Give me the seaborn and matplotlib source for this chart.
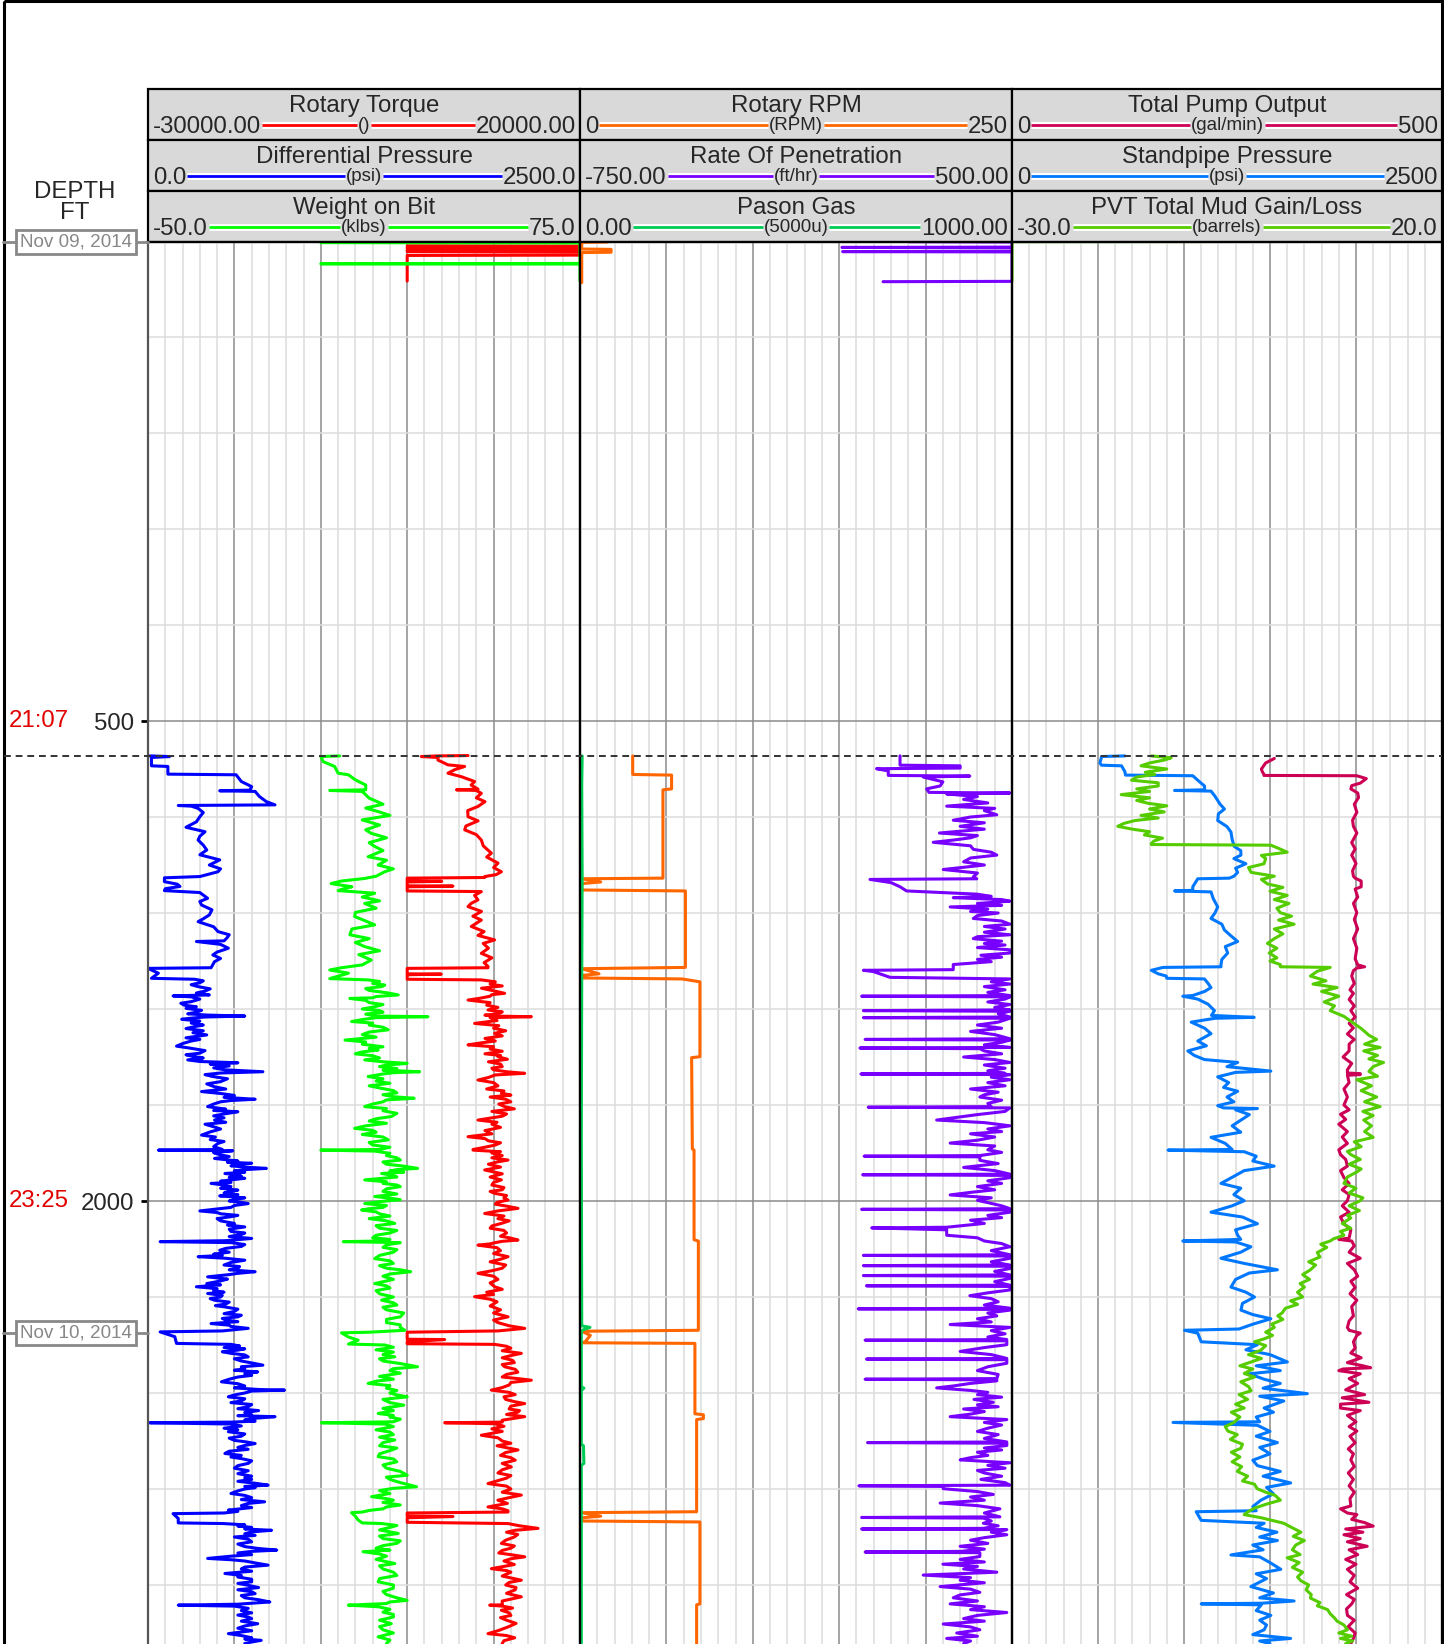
import numpy as np
import pandas as pd
import matplotlib
matplotlib.use("Agg")
import matplotlib.pyplot as plt
import matplotlib.transforms as mtransforms
from matplotlib.patches import Rectangle
from matplotlib.lines import Line2D
import seaborn as sns

sns.set_style("white")
plt.rcParams['font.family'] = ['Liberation Sans', 'DejaVu Sans']

# ---------------- data (depth ft, value in curve units) ----------------
depth_ticks = [500, 2000]
time_labels = ["21:07", "23:25"]
date_labels = ["Nov 09, 2014", "Nov 10, 2014"]
date_depths = [-997, 2412]
event_depth = 609

# short readings at the very top of the log
torque_top = [(-985, 0), (-984, 25000), (-981, 25000), (-980, 0), (-977, 0), (-976, 25000),
              (-972, 25000), (-971, 0), (-967, 0), (-966, 25000), (-956, 25000), (-955, 0), (-875, 0)]
wob_top = [(-995, 0), (-994, 80), (-930, 80), (-929, 0), (-928, 80), (-875, 80)]
rpm_top = [(-997, 16), (-996, 1), (-975, 1), (-974, 18), (-965, 18), (-964, 1), (-870, 1)]
rop_top = [(-998, 200), (-997, 520), (-981, 520), (-980, 8), (-979, 520), (-968, 520), (-967, 10),
           (-966, 520), (-874, 520), (-873, 127)]
pvt_top = [(-999, 25), (-998, -35), (-875, -35)]

torque_pts = [
    (608, 7040), (609, 3560), (611, 1630), (614, 3560), (622, 3560), (637, 4720), (642, 6650), (652, 5500),
    (663, 4720), (674, 6270), (689, 7800), (700, 7400), (713, 8200), (715, 5700), (717, 8000), (726, 8580),
    (740, 8000), (752, 9000), (767, 8190), (780, 7000), (799, 7040), (812, 8200), (828, 6800), (840, 6650),
    (855, 8000), (872, 8580), (890, 8800), (913, 9740), (925, 9200), (944, 10510), (958, 10000), (971, 10900),
    (980, 10300), (986, 8970), (989, 8970), (991, 0), (1000, 0), (1001, 4000), (1003, 0), (1015, 0),
    (1016, 5300), (1018, 0), (1031, 0), (1033, 8580), (1045, 7800), (1059, 8190), (1070, 7400), (1080, 7040),
    (1095, 8600), (1110, 7600), (1122, 8580), (1132, 8000), (1142, 7420), (1158, 8900), (1170, 8200),
    (1184, 10120), (1195, 8800), (1210, 9400), (1226, 8580), (1240, 9800), (1255, 8900), (1267, 9350),
    (1271, 9350), (1273, 0), (1290, 0), (1291, 3950), (1293, 0), (1307, 0),
    (1309, 8580), (1315, 10200), (1322, 9600), (1328, 11000), (1335, 8600), (1343, 10000), (1351, 11280),
    (1355, 9800), (1360, 9600), (1366, 8500), (1372, 7040), (1380, 9600), (1388, 9200), (1395, 10500),
    (1403, 9350), (1409, 11000), (1415, 10500), (1419, 9000), (1422, 9800), (1424, 14370), (1427, 9600),
    (1436, 10400), (1445, 7800), (1452, 10600), (1460, 10000), (1468, 11400), (1476, 10120), (1484, 11000),
    (1492, 9000), (1500, 10200), (1506, 8500), (1512, 7040), (1518, 10000), (1525, 9600), (1532, 11000),
    (1540, 9000), (1545, 10800), (1549, 10510), (1557, 11600), (1565, 9400), (1572, 10800), (1580, 11000),
    (1585, 9800), (1590, 10000), (1596, 11500), (1601, 13600), (1606, 10200), (1614, 9400), (1622, 8190),
    (1630, 10000), (1640, 10500), (1650, 9200), (1656, 11200), (1663, 10900), (1669, 12000), (1675, 9600),
    (1682, 11400), (1690, 12000), (1697, 10600), (1705, 11280), (1712, 12400), (1720, 9800), (1728, 11500),
    (1735, 11000), (1741, 9600), (1747, 8190), (1754, 10400), (1760, 9800), (1770, 10800), (1780, 9000),
    (1790, 9800), (1799, 7040), (1805, 9000), (1812, 9400), (1818, 10800), (1825, 10200), (1832, 9000),
    (1839, 7620), (1841, 7620), (1846, 10800), (1850, 9800), (1858, 11000), (1865, 9800), (1872, 11670),
    (1878, 10400), (1885, 9400), (1894, 10800), (1903, 8970), (1909, 10000), (1915, 11000), (1925, 9600),
    (1934, 10900), (1942, 10000), (1950, 9800), (1958, 11200), (1965, 11000), (1970, 9600), (1976, 10120),
    (1983, 11500), (1990, 11200), (1997, 11670), (2004, 10400), (2010, 10200), (2016, 11500), (2023, 12820),
    (2031, 10500), (2039, 8970), (2047, 11200), (2055, 10500), (2062, 11800), (2070, 10900), (2078, 9800),
    (2085, 9600), (2092, 11200), (2100, 11500), (2110, 10800), (2116, 12000), (2122, 12820), (2126, 11000),
    (2130, 10200), (2134, 9600), (2138, 8190), (2146, 10400), (2155, 10800), (2164, 10000), (2174, 11670),
    (2182, 10800), (2190, 9600), (2200, 11400), (2210, 11000), (2218, 9800), (2226, 8190), (2235, 10000),
    (2245, 10500), (2256, 9600), (2268, 10120), (2276, 11000), (2285, 9200), (2292, 10000), (2299, 7800),
    (2307, 9600), (2315, 10400), (2328, 9600), (2340, 10800), (2350, 10000), (2362, 11670), (2372, 10000),
    (2380, 10500), (2390, 11800), (2398, 13600), (2406, 10500), (2410, 0), (2432, 0), (2433, 4340), (2440, 0),
    (2446, 0), (2448, 10120), (2454, 11500), (2460, 12000), (2468, 11000), (2476, 13210), (2483, 12000),
    (2490, 11000), (2498, 12200), (2505, 12400), (2511, 11000), (2518, 11280), (2526, 12500), (2535, 12800),
    (2542, 11500), (2550, 11000), (2555, 12800), (2560, 14370), (2567, 12000), (2575, 11800), (2583, 11000),
    (2591, 9740), (2598, 11800), (2605, 12500), (2612, 11200), (2620, 11400), (2627, 12400), (2633, 13600),
    (2641, 12000), (2650, 11800), (2655, 13000), (2660, 12800), (2667, 11500), (2674, 13600), (2680, 12200),
    (2685, 11000), (2691, 11000), (2693, 4340), (2696, 10120), (2704, 11200), (2712, 9800), (2720, 11000),
    (2732, 8580), (2740, 10500), (2750, 11000), (2757, 12000), (2765, 10400), (2771, 11500), (2778, 12820),
    (2786, 11400), (2795, 10800), (2802, 12000), (2810, 12500), (2820, 11000), (2831, 12050), (2840, 11000),
    (2850, 10500), (2858, 12000), (2866, 11500), (2874, 10500), (2883, 9350), (2891, 11500), (2900, 12000),
    (2910, 11000), (2919, 13210), (2927, 11800), (2935, 10500), (2945, 11600), (2956, 9350), (2962, 11000),
    (2968, 11670), (2972, 11670), (2975, 0), (2985, 0), (2986, 5300), (2990, 0), (3004, 0), (3008, 11670),
    (3015, 13000), (3023, 15140), (3029, 12500), (3035, 11500), (3042, 12800), (3050, 12400), (3060, 11400),
    (3070, 10900), (3078, 12400), (3085, 12000), (3092, 11000), (3100, 10600), (3106, 12200), (3112, 13600),
    (3118, 12000), (3125, 11200), (3136, 12400), (3149, 9740), (3155, 11500), (3160, 12000), (3172, 11000),
    (3185, 13210), (3192, 11800), (3200, 11400), (3208, 12600), (3215, 12500), (3226, 11500), (3237, 13210),
    (3244, 12000), (3250, 11000), (3262, 11000), (3263, 9550), (3266, 11000), (3272, 12200), (3279, 10900),
    (3287, 11800), (3295, 12000), (3302, 10800), (3310, 11500), (3320, 12600), (3331, 11670), (3342, 10600),
    (3352, 9350), (3358, 11500), (3365, 12440), (3374, 11200), (3383, 11000)]

dp_pts = [
    (609, 10), (611, 125), (614, 20), (640, 20), (642, 115), (666, 115), (668, 510), (689, 540), (705, 600),
    (716, 590), (718, 415), (720, 620), (736, 645), (752, 685), (762, 735), (764, 175), (766, 250), (773, 290),
    (786, 320), (799, 300), (815, 280), (832, 220), (846, 330), (860, 300), (872, 290), (888, 320), (903, 340),
    (918, 300), (934, 415), (950, 355), (962, 420), (971, 405), (986, 300), (990, 95), (1002, 95), (1010, 170),
    (1017, 185), (1024, 100), (1030, 95), (1036, 300), (1054, 345), (1064, 300), (1075, 310), (1090, 370),
    (1106, 355), (1118, 320), (1127, 290), (1143, 380), (1158, 405), (1168, 470), (1179, 455), (1187, 440),
    (1189, 280), (1198, 420), (1210, 465), (1222, 400), (1231, 375), (1242, 420), (1252, 385), (1271, 365),
    (1273, 0), (1288, 60), (1304, 20),
    (1307, 270), (1312, 320), (1318, 300), (1324, 250), (1330, 290), (1337, 360), (1344, 330), (1350, 280),
    (1356, 355), (1359, 145), (1362, 250), (1369, 300), (1377, 250), (1382, 190), (1388, 210), (1393, 280),
    (1398, 220), (1404, 310), (1410, 280), (1415, 230), (1419, 345), (1422, 560), (1425, 330), (1428, 260),
    (1432, 195), (1438, 300), (1444, 250), (1450, 320), (1455, 270), (1461, 220), (1468, 320), (1474, 260),
    (1481, 340), (1490, 220), (1495, 300), (1500, 250), (1508, 200), (1516, 165), (1522, 240), (1530, 330),
    (1538, 300), (1543, 220), (1548, 260), (1553, 320), (1559, 230), (1564, 300), (1568, 520), (1572, 360),
    (1578, 470), (1584, 380), (1590, 445), (1596, 665), (1600, 420), (1605, 330), (1611, 375), (1618, 460),
    (1627, 420), (1634, 340), (1643, 385), (1650, 450), (1658, 310), (1664, 420), (1670, 500), (1676, 440),
    (1682, 620), (1686, 480), (1690, 420), (1697, 380), (1705, 345), (1713, 450), (1717, 380), (1721, 520),
    (1728, 440), (1734, 380), (1740, 440), (1747, 385), (1754, 450), (1760, 330), (1768, 380), (1775, 420),
    (1784, 360), (1794, 310), (1800, 390), (1808, 360), (1814, 440), (1820, 405), (1830, 380), (1839, 430),
    (1841, 60), (1843, 490), (1849, 380), (1856, 420), (1861, 470), (1867, 385), (1871, 450), (1875, 520),
    (1879, 460), (1882, 600), (1886, 520), (1890, 480), (1894, 560), (1898, 685), (1902, 560), (1906, 500),
    (1910, 560), (1914, 445), (1918, 510), (1922, 540), (1926, 470), (1929, 560), (1934, 480), (1938, 420),
    (1942, 480), (1945, 365), (1950, 440), (1955, 480), (1960, 420), (1966, 520), (1970, 470), (1975, 440),
    (1980, 520), (1984, 415),
    (1990, 560), (1995, 500), (2000, 470), (2004, 540), (2008, 580), (2014, 500), (2020, 480), (2026, 380),
    (2031, 300), (2036, 400), (2040, 420), (2045, 520), (2049, 480), (2055, 400), (2062, 420), (2070, 500),
    (2075, 460), (2081, 560), (2088, 470), (2095, 480), (2100, 560), (2105, 540), (2111, 470), (2117, 600),
    (2124, 450), (2127, 70), (2130, 480), (2136, 560), (2142, 540), (2148, 450), (2154, 415), (2160, 470),
    (2166, 380), (2170, 430), (2174, 290), (2179, 450), (2185, 560), (2192, 480), (2200, 440), (2205, 530),
    (2210, 520), (2215, 470), (2221, 620), (2226, 520), (2230, 470), (2237, 345), (2244, 460), (2250, 420),
    (2258, 340), (2262, 420), (2268, 280), (2274, 400), (2280, 380), (2285, 440), (2289, 345), (2295, 430),
    (2300, 420), (2305, 360), (2310, 385), (2316, 470), (2322, 450), (2327, 390), (2331, 445), (2338, 520),
    (2345, 500), (2352, 440), (2357, 540), (2362, 520), (2367, 430), (2372, 450), (2377, 520), (2383, 365),
    (2388, 470), (2392, 480), (2398, 580), (2406, 430), (2409, 70), (2424, 155), (2445, 165), (2448, 480),
    (2453, 530), (2458, 440), (2462, 560), (2466, 520), (2471, 430), (2476, 480), (2481, 560), (2487, 580),
    (2493, 500), (2500, 540), (2506, 600), (2513, 665), (2518, 540), (2524, 560), (2529, 500), (2534, 635),
    (2540, 560), (2545, 600), (2550, 520), (2557, 470), (2565, 425), (2571, 520), (2578, 560), (2584, 500),
    (2589, 640), (2591, 790), (2594, 600), (2600, 560), (2606, 500), (2612, 465), (2618, 560), (2625, 540),
    (2630, 480), (2636, 600), (2643, 580), (2649, 520), (2655, 640), (2661, 560), (2668, 600), (2671, 520),
    (2674, 735), (2679, 620), (2684, 560), (2688, 620), (2691, 480), (2693, 10), (2697, 480), (2703, 540),
    (2710, 440), (2715, 520), (2721, 465), (2728, 560), (2735, 540), (2741, 470), (2748, 500), (2753, 570),
    (2758, 620), (2764, 560), (2770, 520), (2776, 580), (2782, 470), (2789, 445), (2795, 540), (2800, 480),
    (2805, 540), (2812, 600), (2820, 580), (2827, 520), (2835, 500), (2843, 580), (2852, 520), (2860, 600),
    (2865, 560), (2870, 600), (2876, 520), (2882, 620), (2888, 695), (2892, 560), (2896, 620), (2900, 560),
    (2906, 520), (2914, 480), (2920, 560), (2927, 600), (2933, 540), (2940, 675), (2945, 580), (2952, 540),
    (2958, 600), (2966, 465), (2970, 520), (2975, 440), (2977, 145), (2992, 175), (3006, 175), (3008, 435),
    (3012, 560), (3016, 520), (3020, 600), (3025, 560), (3029, 715), (3034, 600), (3040, 560), (3045, 620),
    (3050, 500), (3057, 580), (3065, 600), (3072, 520), (3080, 560), (3086, 640), (3091, 745), (3095, 600),
    (3100, 520), (3105, 600), (3110, 480), (3117, 345), (3121, 480), (3125, 560), (3131, 620), (3138, 695),
    (3144, 560), (3150, 540), (3157, 600), (3164, 445), (3170, 540), (3175, 520), (3182, 600), (3190, 600),
    (3195, 520), (3201, 580), (3208, 640), (3215, 520), (3221, 600), (3227, 620), (3233, 540), (3240, 560),
    (3246, 640), (3253, 705), (3260, 520), (3263, 175), (3266, 500), (3273, 580), (3280, 540), (3287, 600),
    (3294, 520), (3300, 580), (3305, 600), (3313, 540), (3321, 635), (3328, 560), (3335, 520), (3343, 600),
    (3352, 465), (3358, 540), (3365, 600), (3369, 560), (3373, 655), (3378, 600), (3383, 560)]

wob_pts = [
    (609, 5.5), (611, 0), (627, 0.7), (642, 4), (663, 5), (668, 8), (684, 10), (700, 13), (715, 13),
    (717, 2.6), (720, 12), (741, 14), (760, 18), (772, 13), (783, 16.6), (795, 20), (809, 12), (825, 17),
    (840, 13), (851, 14.6), (865, 19), (880, 14), (892, 15.6), (905, 18), (924, 13.7), (935, 19), (950, 16.6),
    (962, 21), (971, 18.5), (985, 16), (992, 12.7), (1000, 6), (1008, 3), (1018, 9), (1023, 7), (1030, 5),
    (1038, 15.6), (1050, 12), (1062, 17), (1070, 12.7), (1085, 16), (1098, 10), (1111, 9.8), (1125, 13),
    (1137, 15.6), (1150, 9), (1168, 8.4), (1180, 14), (1192, 10), (1205, 12.7), (1218, 17), (1230, 11),
    (1247, 14.6), (1262, 12), (1271, 6), (1278, 2.6), (1288, 8), (1305, 2.6),
    (1309, 13.7), (1314, 17), (1320, 15), (1325, 18.5), (1330, 17.6), (1336, 13), (1342, 14), (1349, 19),
    (1356, 22.4), (1361, 16), (1365, 15), (1367, 8.4), (1373, 13), (1380, 14), (1386, 18), (1393, 15.6),
    (1400, 12), (1405, 17), (1410, 18), (1416, 13), (1422, 16), (1424, 31), (1427, 16), (1433, 12),
    (1439, 8.9), (1444, 15), (1450, 14), (1457, 18), (1465, 19.5), (1472, 14), (1480, 12), (1488, 16),
    (1497, 7), (1503, 13), (1510, 12), (1518, 18), (1523, 14), (1528, 16.6), (1534, 12), (1540, 10),
    (1546, 15), (1553, 17), (1559, 12.7), (1565, 18), (1570, 25), (1575, 19), (1580, 17), (1586, 22),
    (1591, 18), (1596, 28.6), (1599, 21), (1603, 18), (1611, 13.7), (1618, 18), (1625, 16), (1632, 20),
    (1640, 14), (1648, 17.6), (1655, 21), (1662, 22), (1668, 18), (1674, 21), (1679, 27), (1684, 19),
    (1690, 18), (1697, 15), (1705, 12.7), (1711, 19), (1718, 18), (1726, 22), (1736, 20.4), (1743, 16),
    (1750, 14), (1757, 19), (1765, 13), (1773, 9.8), (1779, 15), (1785, 16), (1792, 12), (1800, 18),
    (1809, 19.5), (1817, 14), (1825, 15), (1832, 20), (1839, 17), (1841, 0), (1844, 15.6), (1851, 20),
    (1858, 19), (1865, 22), (1872, 23), (1878, 18), (1885, 19), (1891, 24), (1898, 28), (1902, 22),
    (1906, 20), (1910, 24), (1914, 17.6), (1920, 21), (1925, 22), (1930, 17), (1934, 12.7), (1940, 19),
    (1945, 18), (1950, 22), (1955, 23), (1962, 19), (1970, 18), (1978, 22), (1986, 15.6), (1991, 20),
    (1996, 23), (2002, 17), (2008, 12.7), (2014, 19), (2020, 18), (2024, 14), (2028, 11.8), (2034, 16),
    (2040, 17), (2047, 20), (2055, 14), (2062, 19), (2070, 21.4), (2077, 16), (2085, 17), (2092, 22),
    (2100, 20), (2107, 16), (2115, 15), (2120, 20), (2125, 17), (2127, 6.5), (2130, 23), (2137, 19),
    (2145, 18), (2152, 22), (2160, 21), (2170, 17), (2180, 15.6), (2187, 20), (2195, 21), (2202, 17),
    (2210, 19), (2215, 23), (2221, 26), (2228, 20), (2235, 18), (2245, 21), (2258, 15.6), (2265, 19),
    (2272, 20), (2280, 16), (2290, 17), (2300, 21), (2310, 17.6), (2318, 21), (2325, 22), (2332, 18),
    (2340, 19), (2350, 24), (2362, 23), (2370, 19), (2380, 19), (2387, 23), (2395, 23), (2404, 24.3),
    (2410, 14), (2412, 6), (2425, 8), (2435, 10.8), (2447, 8), (2450, 18.5), (2457, 21), (2465, 16),
    (2472, 21), (2480, 18), (2487, 21.4), (2493, 17), (2500, 18), (2508, 23), (2518, 28), (2524, 21),
    (2530, 20), (2538, 23), (2548, 17), (2557, 21), (2563, 16), (2570, 13.7), (2577, 20), (2585, 19),
    (2592, 22), (2600, 20), (2606, 22), (2612, 25), (2620, 18), (2630, 20), (2638, 24), (2648, 18),
    (2655, 21), (2664, 16.6), (2670, 21), (2675, 20), (2682, 23), (2690, 21), (2693, 0.2), (2697, 18.5),
    (2705, 21), (2715, 16), (2722, 20), (2730, 21), (2738, 17), (2747, 21.4), (2755, 18), (2765, 17),
    (2772, 22), (2780, 20), (2790, 17), (2799, 16.6), (2806, 21), (2815, 22), (2825, 18), (2835, 19),
    (2845, 23), (2857, 25), (2863, 19), (2870, 20), (2880, 23), (2893, 27.7), (2898, 21), (2905, 17),
    (2914, 20), (2924, 14.7), (2930, 19), (2935, 21), (2942, 18), (2950, 23), (2956, 19), (2962, 18),
    (2967, 14), (2972, 12), (2974, 8.9), (2985, 10), (2997, 10.8), (3006, 12), (3008, 17.6), (3014, 22),
    (3020, 20), (3028, 17), (3039, 22.4), (3047, 17), (3055, 18), (3062, 23), (3070, 22), (3077, 18),
    (3085, 16), (3091, 20), (3096, 12.2), (3103, 17), (3110, 19), (3120, 16), (3133, 21.4), (3140, 17),
    (3150, 18), (3160, 21), (3170, 22), (3180, 17), (3190, 16.6), (3200, 21), (3210, 21), (3220, 18),
    (3230, 19), (3240, 22), (3248, 25), (3253, 20), (3258, 19), (3263, 8), (3268, 16.6), (3276, 20),
    (3285, 18), (3292, 21), (3300, 21), (3310, 17), (3321, 20.4), (3330, 17), (3340, 18), (3350, 21),
    (3362, 16.6), (3372, 20), (3383, 19)]

rpm_pts = [
    (609, 30.5), (667, 30.5), (669, 53), (712, 53), (715, 48), (991, 48), (993, 1), (1003, 12), (1008, 1),
    (1028, 1), (1031, 61), (1270, 61), (1274, 1), (1290, 11), (1295, 1), (1303, 1), (1306, 59), (1315, 69.4),
    (1549, 69.4), (1552, 64.6), (1837, 65), (1841, 66), (2121, 66), (2125, 68.5), (2404, 68.5), (2407, 1),
    (2420, 6), (2440, 3), (2443, 1), (2445, 66.5), (2665, 66.5), (2668, 71.4), (2680, 71.4), (2683, 67.5),
    (2971, 67.5), (2974, 1), (2985, 12), (2990, 1), (3000, 1), (3003, 69.4), (3259, 69.4), (3262, 67.5),
    (3383, 67.5)]

rop_pts = [
    (609, 176), (638, 176), (640, 350), (647, 350), (649, 108), (656, 142), (670, 142), (672, 378), (675, 243),
    (690, 300), (703, 292), (712, 253), (723, 260), (725, 494), (728, 311), (736, 400), (745, 360), (756, 430),
    (766, 311), (773, 450), (780, 420), (793, 456), (800, 380), (810, 330), (818, 420), (829, 350), (838, 420),
    (850, 290), (858, 400), (865, 380), (872, 330), (879, 272), (890, 380), (901, 388), (910, 440), (919, 456),
    (928, 380), (940, 360), (950, 420), (964, 301), (975, 400), (987, 388), (993, 398), (995, 89), (1005, 150),
    (1018, 176), (1031, 195), (1041, 398), (1048, 440), (1052, 330), (1058, 470), (1063, 494), (1070, 400),
    (1076, 470), (1081, 321), (1088, 430), (1095, 380), (1100, 460), (1108, 400), (1117, 388), (1125, 470),
    (1135, 494), (1142, 420), (1150, 480), (1160, 420), (1168, 494), (1174, 400), (1180, 388), (1188, 470),
    (1195, 420), (1200, 480), (1208, 400), (1215, 494), (1225, 494), (1232, 410), (1238, 470), (1245, 400),
    (1252, 440), (1261, 330), (1277, 330), (1279, 70), (1283, 99), (1301, 147), (1306, 494), (1315, 440),
    (1322, 494), (1330, 420), (1340, 480), (1348, 430), (1358, 494), (1360, 65), (1362, 494), (1369, 480),
    (1378, 430), (1386, 494), (1395, 450), (1403, 494), (1405, 70), (1407, 494), (1415, 460), (1425, 494),
    (1427, 70), (1429, 494), (1441, 460), (1450, 400), (1460, 470), (1470, 380), (1480, 450), (1493, 494),
    (1495, 75), (1497, 494), (1504, 470), (1512, 420), (1520, 494), (1522, 60), (1524, 407), (1531, 420),
    (1540, 470), (1550, 360), (1558, 450), (1567, 494), (1575, 420), (1585, 480), (1593, 430), (1601, 480),
    (1603, 63), (1605, 494), (1613, 440), (1621, 494), (1630, 430), (1640, 480), (1650, 380), (1660, 460),
    (1668, 420), (1675, 407), (1685, 470), (1695, 430), (1705, 440), (1707, 84), (1709, 494), (1720, 480),
    (1730, 400), (1740, 330), (1747, 282), (1755, 420), (1765, 494), (1775, 430), (1783, 470), (1790, 380),
    (1800, 450), (1810, 400), (1819, 321), (1828, 450), (1840, 430), (1848, 470), (1858, 407), (1860, 72),
    (1862, 407), (1873, 407), (1883, 460), (1895, 360), (1905, 450), (1916, 494), (1918, 68), (1920, 494),
    (1927, 494), (1937, 430), (1945, 470), (1955, 400), (1965, 450), (1973, 380), (1981, 321), (1990, 440),
    (1998, 400), (2005, 430), (2015, 470), (2024, 494), (2026, 65), (2028, 494), (2035, 494), (2045, 430),
    (2052, 470), (2060, 380), (2070, 420), (2082, 311), (2084, 94), (2090, 311), (2107, 311), (2115, 400),
    (2125, 420), (2133, 470), (2143, 494), (2155, 440), (2168, 494), (2170, 70), (2172, 494), (2179, 494),
    (2190, 440), (2200, 494), (2202, 70), (2204, 494), (2211, 494), (2220, 450), (2231, 494), (2233, 70),
    (2235, 494), (2242, 494), (2252, 450), (2263, 494), (2265, 79), (2267, 494), (2278, 494), (2287, 430),
    (2296, 378), (2305, 440), (2315, 460), (2325, 420), (2335, 494), (2337, 55), (2339, 494), (2341, 494),
    (2350, 430), (2359, 456), (2368, 400), (2378, 440), (2386, 321), (2395, 494), (2405, 440), (2415, 480),
    (2425, 430), (2433, 485), (2435, 75), (2437, 485), (2449, 485), (2458, 420), (2470, 350), (2480, 440),
    (2492, 485), (2494, 79), (2496, 485), (2507, 485), (2518, 430), (2530, 400), (2542, 460), (2555, 456),
    (2557, 75), (2559, 456), (2562, 456), (2570, 380), (2578, 330), (2584, 282), (2592, 380), (2598, 430),
    (2605, 400), (2613, 470), (2620, 390), (2629, 446), (2637, 400), (2643, 460), (2650, 360), (2658, 420),
    (2666, 380), (2674, 321), (2683, 485), (2692, 420), (2700, 470), (2710, 430), (2720, 400), (2730, 460),
    (2742, 420), (2753, 485), (2755, 82), (2757, 485), (2764, 485), (2772, 420), (2778, 470), (2785, 400),
    (2795, 430), (2802, 380), (2809, 350), (2818, 494), (2826, 430), (2835, 480), (2842, 400), (2850, 420),
    (2860, 470), (2870, 410), (2880, 480), (2888, 494), (2890, 57), (2892, 301), (2899, 301), (2908, 400),
    (2917, 446), (2925, 380), (2935, 420), (2944, 292), (2952, 400), (2962, 465), (2975, 420), (2987, 465),
    (2989, 65), (2991, 417), (3000, 440), (3007, 417), (3015, 460), (3023, 417), (3025, 65), (3027, 485),
    (3035, 440), (3043, 485), (3052, 420), (3060, 380), (3070, 430), (3079, 350), (3088, 420), (3095, 350),
    (3097, 75), (3099, 407), (3111, 407), (3120, 350), (3128, 420), (3135, 300), (3142, 400), (3150, 360),
    (3160, 456), (3169, 243), (3177, 380), (3185, 350), (3193, 420), (3205, 292), (3213, 380), (3223, 407),
    (3231, 350), (3240, 330), (3250, 400), (3259, 321), (3268, 420), (3277, 380), (3286, 485), (3295, 400),
    (3305, 360), (3313, 420), (3322, 301), (3331, 380), (3340, 407), (3350, 340), (3360, 400), (3367, 311),
    (3375, 380), (3383, 360)]

gas_pts = [
    (609, 5), (700, 4), (990, 5), (1300, 4), (1800, 3), (2390, 4), (2395, 23), (2402, 8), (2408, 3),
    (2580, 3), (2585, 9), (2592, 3), (2760, 3), (2765, 8), (2820, 9), (2826, 3), (3383, 3)]

pump_pts = [
    (617, 305), (631, 295), (650, 290), (658, 291), (667, 293), (670, 293), (671, 401), (680, 412), (694, 405),
    (702, 395), (712, 394), (725, 402), (739, 403), (760, 398), (785, 401), (810, 396), (829, 397), (850, 401),
    (880, 395), (900, 399), (919, 395), (945, 400), (968, 396), (985, 397), (991, 399), (1000, 406),
    (1018, 406), (1025, 399), (1050, 402), (1070, 397), (1099, 401), (1120, 398), (1150, 402), (1180, 397),
    (1210, 401), (1243, 399), (1262, 402), (1268, 410), (1272, 401), (1280, 397), (1297, 395), (1320, 398),
    (1340, 393), (1351, 397), (1370, 392), (1390, 398), (1405, 394), (1425, 399), (1445, 392), (1459, 397),
    (1478, 390), (1495, 398), (1510, 392), (1531, 392), (1550, 385), (1570, 395), (1590, 390), (1600, 390),
    (1602, 405), (1605, 405), (1607, 390), (1630, 392), (1650, 386), (1675, 390), (1700, 386), (1715, 392),
    (1729, 382), (1745, 388), (1760, 380), (1783, 390), (1800, 384), (1820, 390), (1840, 380), (1855, 382),
    (1870, 388), (1891, 390), (1905, 382), (1927, 386), (1945, 392), (1965, 384), (1980, 392), (1999, 390),
    (2015, 384), (2035, 392), (2050, 382), (2071, 386), (2090, 394), (2116, 392), (2120, 380), (2125, 395),
    (2140, 398), (2160, 392), (2179, 405), (2195, 390), (2215, 398), (2235, 402), (2251, 394), (2270, 399),
    (2290, 393), (2310, 401), (2330, 395), (2359, 397), (2375, 392), (2395, 390), (2404, 392), (2413, 405),
    (2420, 401), (2440, 397), (2460, 399), (2475, 394), (2490, 406), (2505, 390), (2515, 408), (2521, 417),
    (2525, 385), (2530, 380), (2540, 405), (2555, 392), (2570, 402), (2590, 388), (2605, 410), (2615, 384),
    (2629, 415), (2635, 382), (2647, 382), (2655, 405), (2670, 390), (2690, 400), (2705, 392), (2719, 401),
    (2735, 393), (2755, 399), (2775, 391), (2790, 397), (2809, 394), (2830, 398), (2850, 391), (2870, 397),
    (2890, 392), (2910, 398), (2930, 393), (2953, 394), (2962, 382), (2975, 390), (2980, 401), (2995, 395),
    (3005, 410), (3016, 420), (3025, 388), (3035, 408), (3043, 386), (3055, 405), (3065, 390), (3079, 413),
    (3090, 392), (3105, 402), (3120, 388), (3135, 400), (3151, 390), (3170, 398), (3190, 393), (3210, 402),
    (3230, 389), (3245, 398), (3259, 395), (3275, 389), (3295, 390), (3310, 398), (3330, 391), (3350, 399),
    (3367, 397), (3383, 394)]

spp_pts = [
    (609, 656), (611, 521), (631, 511), (638, 520), (640, 637), (658, 656), (669, 660), (671, 1051),
    (685, 1080), (703, 1119), (715, 1120), (717, 945), (719, 1157), (735, 1180), (748, 1196), (760, 1210),
    (775, 1235), (790, 1200), (811, 1196), (830, 1250), (847, 1273), (870, 1280), (892, 1292), (905, 1330),
    (919, 1331), (930, 1290), (946, 1360), (960, 1300), (973, 1312), (985, 1290), (991, 1264), (993, 1080),
    (1018, 1051), (1029, 1051), (1031, 945), (1034, 1157), (1055, 1170), (1081, 1196), (1100, 1180),
    (1117, 1157), (1135, 1220), (1153, 1235), (1170, 1270), (1189, 1312), (1205, 1240), (1225, 1254),
    (1245, 1220), (1261, 1215), (1268, 1215), (1270, 878), (1279, 810), (1290, 850), (1297, 897), (1304, 900),
    (1306, 1119), (1320, 1140), (1333, 1157), (1345, 1120), (1358, 1050), (1360, 993), (1369, 1080),
    (1385, 1140), (1405, 1177), (1420, 1160), (1426, 1408), (1429, 1180), (1441, 1042), (1460, 1120),
    (1477, 1157), (1500, 1080), (1515, 1130), (1531, 1022), (1545, 1060), (1558, 1119), (1567, 1312),
    (1580, 1250), (1594, 1505), (1598, 1300), (1612, 1196), (1630, 1260), (1645, 1230), (1657, 1312),
    (1675, 1250), (1690, 1290), (1702, 1196), (1709, 1230), (1711, 1427), (1715, 1300), (1730, 1380),
    (1747, 1331), (1765, 1280), (1785, 1330), (1801, 1157), (1820, 1240), (1839, 1280), (1841, 907),
    (1846, 1350), (1860, 1420), (1875, 1400), (1891, 1524), (1905, 1350), (1920, 1300), (1945, 1215),
    (1960, 1330), (1980, 1290), (1999, 1350), (2015, 1280), (2035, 1157), (2050, 1340), (2071, 1427),
    (2090, 1300), (2107, 1312), (2120, 1330), (2125, 993), (2128, 1300), (2143, 1389), (2160, 1330),
    (2179, 1215), (2195, 1350), (2215, 1543), (2225, 1380), (2245, 1300), (2269, 1273), (2285, 1360),
    (2300, 1410), (2320, 1340), (2341, 1331), (2355, 1400), (2368, 1505), (2385, 1400), (2400, 1320),
    (2404, 1003), (2413, 1080), (2440, 1100), (2449, 1427), (2465, 1360), (2480, 1500), (2503, 1601),
    (2515, 1420), (2530, 1560), (2540, 1380), (2557, 1466), (2570, 1560), (2585, 1460), (2602, 1717),
    (2610, 1440), (2625, 1580), (2647, 1466), (2660, 1520), (2675, 1420), (2690, 1440), (2692, 936),
    (2701, 1427), (2720, 1500), (2735, 1420), (2755, 1543), (2770, 1440), (2790, 1500), (2810, 1400),
    (2827, 1427), (2845, 1560), (2860, 1460), (2881, 1620), (2895, 1480), (2915, 1520), (2935, 1447),
    (2955, 1400), (2968, 1420), (2971, 1071), (2998, 1100), (3007, 1466), (3020, 1420), (3035, 1540),
    (3050, 1440), (3061, 1543), (3075, 1400), (3090, 1460), (3106, 1273), (3112, 1440), (3130, 1500),
    (3151, 1563), (3165, 1420), (3180, 1480), (3205, 1389), (3225, 1520), (3240, 1440), (3250, 1640),
    (3257, 1450), (3259, 1100), (3262, 1450), (3280, 1420), (3295, 1505), (3310, 1440), (3325, 1480),
    (3340, 1466), (3355, 1400), (3367, 1620), (3375, 1440), (3383, 1500)]

pvt_pts = [
    (609, -13.8), (615, -11.5), (622, -12.3), (631, -14), (640, -15), (650, -12), (660, -14.5), (667, -13.4),
    (675, -15.5), (685, -16.1), (693, -13), (703, -13), (712, -15.5), (720, -14), (730, -17.3), (740, -14),
    (748, -15.5), (757, -14.2), (765, -12), (775, -14), (784, -12.3), (795, -15), (803, -13), (811, -15.7),
    (820, -17), (829, -17.7), (838, -16), (846, -14), (856, -14.6), (866, -12.5), (875, -13.5), (883, -13.8),
    (886, -13.8), (888, 0.1), (898, 1), (910, 2), (920, -1), (930, -0.5), (946, -0.7), (958, -2.5),
    (973, -2.2), (985, 0.5), (995, -1), (1009, -0.3), (1020, 1.5), (1032, 0), (1045, 2), (1058, 0.5),
    (1070, 2.2), (1085, 0.8), (1099, 1.2), (1110, 2.5), (1122, 1), (1135, 2.8), (1150, 0.5), (1165, 1.5),
    (1180, 0.5), (1195, -0.3), (1210, 0.8), (1225, -0.1), (1240, 0.8), (1250, 0), (1261, 1.2), (1268, 1.2),
    (1270, 7), (1282, 5.5), (1297, 4.7), (1312, 6.5), (1322, 5), (1333, 7.8), (1345, 6), (1360, 8),
    (1378, 6.3), (1390, 7.5), (1405, 7), (1423, 8.6), (1440, 9.5), (1459, 10.5), (1470, 11), (1482, 11.5),
    (1495, 12.4), (1510, 11), (1520, 12.8), (1531, 10.9), (1545, 12.5), (1556, 11.5), (1567, 13.2),
    (1580, 12), (1595, 11.5), (1610, 12.5), (1621, 10.1), (1640, 11.8), (1655, 10.6), (1675, 12.4),
    (1690, 11), (1705, 12.8), (1720, 10.8), (1733, 12), (1747, 10.9), (1765, 11.8), (1783, 11), (1801, 12),
    (1815, 9.8), (1830, 10.6), (1845, 9), (1855, 9.4), (1870, 10.5), (1885, 9.2), (1900, 10.6), (1909, 10.1),
    (1925, 9), (1945, 8.6), (1960, 10), (1975, 9.2), (1990, 10.8), (1999, 10.5), (2015, 9.2), (2030, 10.4),
    (2045, 9), (2053, 9.4), (2070, 8.4), (2085, 9.4), (2095, 8.2), (2107, 8.6), (2118, 7.4), (2125, 7),
    (2135, 5.9), (2145, 6.6), (2161, 5.5), (2175, 5.8), (2190, 4.5), (2200, 5.3), (2215, 4.7), (2230, 3.8),
    (2245, 4.6), (2258, 3.5), (2269, 4), (2285, 3.2), (2300, 3.8), (2312, 2.4), (2323, 3.2), (2335, 1.8),
    (2350, 1.4), (2359, 0.9), (2370, 1.5), (2385, 0.2), (2395, 0.5), (2410, -0.5), (2420, 0.3), (2431, -0.7),
    (2440, -1.8), (2452, -0.5), (2467, -1.1), (2480, -2.5), (2492, -1), (2503, -2.2), (2515, -3.5),
    (2525, -2), (2539, -3), (2550, -1.8), (2565, -3.4), (2580, -2.5), (2593, -2.2), (2605, -3.6),
    (2620, -2.6), (2635, -4), (2647, -3), (2660, -4.5), (2675, -3.5), (2692, -4.2), (2705, -5.2),
    (2719, -4.9), (2730, -3.8), (2745, -4.6), (2760, -3.2), (2773, -3.4), (2785, -4.5), (2800, -3.5),
    (2815, -4.4), (2830, -3.3), (2845, -3.8), (2860, -2.6), (2875, -3.2), (2885, -1.8), (2899, -1.5),
    (2910, -0.5), (2920, 0.6), (2935, 1.2), (2948, -0.5), (2960, -1.8), (2970, -2.5), (2980, -3),
    (2990, -1), (3000, 0.5), (3007, 1.6), (3020, 2.5), (3035, 3.6), (3048, 2.7), (3061, 4), (3075, 3),
    (3090, 2.6), (3105, 3.5), (3115, 2), (3130, 3.4), (3145, 2.6), (3160, 3.8), (3175, 3.2), (3187, 3.6),
    (3200, 4.5), (3215, 4.2), (3230, 4.8), (3241, 4.7), (3255, 5.8), (3265, 5.5), (3277, 6.7), (3290, 7),
    (3303, 7.5), (3313, 7.8), (3325, 8.6), (3340, 9), (3350, 8), (3360, 9.5), (3367, 8.2), (3375, 9.6),
    (3383, 8.8)]

# header rows per track: title, unit, left label, right label, scale min, scale max, colour, segments
tracks = [
    [("Rotary Torque", "()", "-30000.00", "20000.00", -30000, 20000, "#ff0000", [torque_top, torque_pts]),
     ("Differential Pressure", "(psi)", "0.0", "2500.0", 0, 2500, "#0000ff", [dp_pts]),
     ("Weight on Bit", "(klbs)", "-50.0", "75.0", -50, 75, "#00ff00", [wob_top, wob_pts])],
    [("Rotary RPM", "(RPM)", "0", "250", 0, 250, "#ff6600", [rpm_top, rpm_pts]),
     ("Rate Of Penetration", "(ft/hr)", "-750.00", "500.00", -750, 500, "#7700ff", [rop_top, rop_pts]),
     ("Pason Gas", "(5000u)", "0.00", "1000.00", 0, 1000, "#00cc55", [gas_pts])],
    [("Total Pump Output", "(gal/min)", "0", "500", 0, 500, "#cc0055", [pump_pts]),
     ("Standpipe Pressure", "(psi)", "0", "2500", 0, 2500, "#0077ff", [spp_pts]),
     ("PVT Total Mud Gain/Loss", "(barrels)", "-30.0", "20.0", -30, 20, "#55cc00", [pvt_top, pvt_pts])],
]

# ---------------- layout (pixels) ----------------
W, H = 1444, 1644
TRACK_X = [148, 580, 1012, 1442]
HEADER_Y = [89, 140, 191, 242]
DEPTH_TOP, DEPTH_BOTTOM = -997, 3384.4
FS = 17.3

fig = plt.figure(figsize=(W / 100, H / 100), dpi=100)
ov = fig.add_axes([0, 0, 1, 1])
ov.set_xlim(0, W)
ov.set_ylim(H, 0)
ov.axis("off")

# outer frame
ov.add_patch(Rectangle((3.5, 1.5), 1438.5, H + 10, fill=False, ec="black", lw=2.2, clip_on=False))

ov.text(75, 192, "DEPTH", ha="center", va="center", fontsize=FS)
ov.text(75, 213, "FT", ha="center", va="center", fontsize=FS)

renderer = fig.canvas.get_renderer()


def scale_line(x_a, x_b, y, color):
    ov.plot([x_a, x_b], [y, y], color="white", lw=5, solid_capstyle="butt", zorder=3)
    ov.plot([x_a, x_b], [y, y], color=color, lw=2, solid_capstyle="butt", zorder=4)


def draw_curve(ax, pts, lo, hi, color):
    df = pd.DataFrame(pts, columns=["depth", "value"])
    df["pos"] = np.clip((df["value"] - lo) / (hi - lo), 0, 1)
    sns.lineplot(data=df, x="pos", y="depth", sort=False, estimator=None,
                 color=color, linewidth=2.2, ax=ax, legend=False)


axes = []
for i, track in enumerate(tracks):
    x0, x1 = TRACK_X[i], TRACK_X[i + 1]
    xc = (x0 + x1) / 2
    # header cells
    for r, (title, unit, lstr, rstr, lo, hi, color, segs) in enumerate(track):
        y0, y1 = HEADER_Y[r], HEADER_Y[r + 1]
        ov.add_patch(Rectangle((x0, y0), x1 - x0, y1 - y0, fc="#d9d9d9", ec="black", lw=1.6, zorder=1))
        ov.text(xc, y0 + 22.7, title, ha="center", va="baseline", fontsize=FS, zorder=5)
        tl = ov.text(x0 + 5, y0 + 43.7, lstr, ha="left", va="baseline", fontsize=FS, zorder=5)
        tr = ov.text(x1 - 4, y0 + 43.7, rstr, ha="right", va="baseline", fontsize=FS, zorder=5)
        tu = ov.text(xc, y0 + 36.5, unit, ha="center", va="center", fontsize=13.5, zorder=5)
        bl = tl.get_window_extent(renderer)
        br = tr.get_window_extent(renderer)
        bu = tu.get_window_extent(renderer)
        scale_line(bl.x1 + 1, bu.x0 - 1, y0 + 36, color)
        scale_line(bu.x1 + 1, br.x0 - 1, y0 + 36, color)

    # track area
    ax = fig.add_axes([x0 / W, 0, (x1 - x0) / W, (H - HEADER_Y[-1]) / H])
    ax.patch.set_alpha(0)
    for k in range(1, 25):
        major = k % 5 == 0
        ax.axvline(k / 25, color="#8c8c8c" if major else "#dddddd", lw=1.1, zorder=0)
    for d in range(-700, 3400, 300):
        major = d in depth_ticks
        ax.axhline(d, color="#8c8c8c" if major else "#dddddd", lw=1.1, zorder=0)
    for title, unit, lstr, rstr, lo, hi, color, segs in track:
        for seg in segs:
            draw_curve(ax, seg, lo, hi, color)
    ax.set_xlim(0, 1)
    ax.set_ylim(DEPTH_BOTTOM, DEPTH_TOP)
    ax.set_xlabel("")
    ax.set_ylabel("")
    ax.set_xticks([])
    for side in ["top", "left", "right"]:
        ax.spines[side].set_color("black")
        ax.spines[side].set_linewidth(1.6)
    ax.spines["bottom"].set_visible(False)
    axes.append(ax)

ax0 = axes[0]
ax0.spines["left"].set_color("#555555")
ax0.set_yticks(depth_ticks)
ax0.set_yticklabels([str(d) for d in depth_ticks])
ax0.tick_params(axis="y", left=True, length=5, width=2, color="black", labelsize=FS, pad=5)
for ax in axes[1:]:
    ax.set_yticks([])

trans = mtransforms.blended_transform_factory(fig.transFigure, ax0.transData)

# times beside the depth labels
for d, t in zip(depth_ticks, time_labels):
    ax0.text(9 / W, d, t, transform=trans, ha="left", va="center", fontsize=FS, color="#e00000", clip_on=False)

# date markers
for d, lab in zip(date_depths, date_labels):
    ax0.add_line(Line2D([3 / W, 148 / W], [d, d], transform=trans, color="#888888", lw=2, clip_on=False, zorder=4))
    ax0.text(76 / W, d, lab, transform=trans, ha="center", va="center", fontsize=13.6, color="#888888",
             zorder=6, clip_on=False,
             bbox=dict(boxstyle="square,pad=0.2", fc="white", ec="#888888", lw=2))

# dashed event line across the log
fig.add_artist(Line2D([4 / W, 1442 / W], [event_depth, event_depth], transform=trans, color="#333333",
                      lw=1.4, dashes=(3.5, 2.5), zorder=5))

fig.savefig("out.png", dpi=100)
